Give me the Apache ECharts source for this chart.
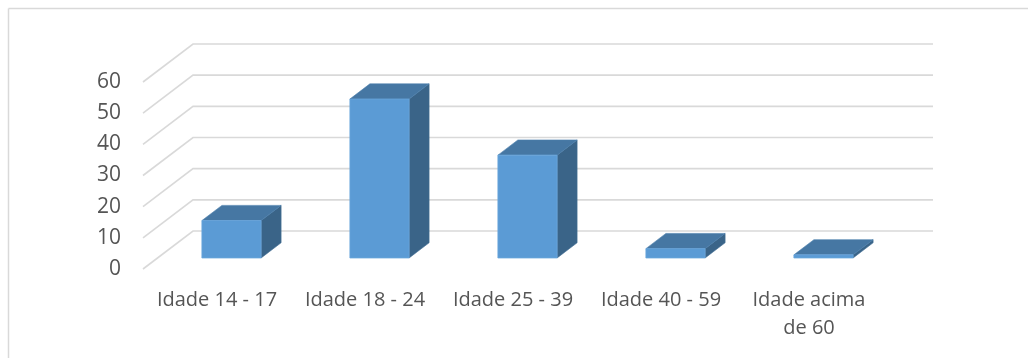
<!DOCTYPE html>
<html>
<head>
<meta charset="utf-8">
<script src="https://cdn.jsdelivr.net/npm/echarts@6/dist/echarts.min.js"></script>
<style>
  html, body { margin: 0; padding: 0; background: #fff; }
  #chart { width: 1028px; height: 358px; }
</style>
</head>
<body>
<div id="chart"></div>
<script>
// Age groups and their shares (%)
const categories = ['Idade 14 - 17', 'Idade 18 - 24', 'Idade 25 - 39', 'Idade 40 - 59', 'Idade acima\nde 60'];
const values = [12, 51, 33, 3, 1];
const yTicks = [0, 10, 20, 30, 40, 50, 60];

// Oblique projection of the floor depth (pixels from front edge to back wall)
const DEPTH_X = 50;
const DEPTH_Y = -38;
// Bars sit inside the depth between these fractions
const BAR_FRONT = 0.29;
const BAR_DEPTH = 0.40;
const BAR_WIDTH = 0.40;

const FONT = '"Open Sans", "Noto Sans", sans-serif';
const TEXT_COLOR = '#555555';
const GRID_COLOR = '#d9d9d9';

const chart = echarts.init(document.getElementById('chart'), null, { renderer: 'canvas' });

function renderGridLine(params, api) {
  const v = api.value(1);
  const band = api.size([1, 0])[0];
  const first = api.coord([0, v]);
  const last = api.coord([categories.length - 1, v]);
  const x0 = first[0] - band / 2;
  const x1 = last[0] + band / 2;
  const y = first[1];
  return {
    type: 'polyline',
    shape: {
      points: [
        [x0, y],
        [x0 + DEPTH_X, y + DEPTH_Y],
        [x1 + DEPTH_X, y + DEPTH_Y]
      ]
    },
    style: { stroke: GRID_COLOR, lineWidth: 1.6, fill: null }
  };
}

function renderBar(params, api) {
  const i = api.value(0);
  const v = api.value(1);
  const base = api.coord([i, 0]);
  const top = api.coord([i, v]);
  const band = api.size([1, 0])[0];
  const w = band * BAR_WIDTH;
  const fx = base[0] - w / 2 + DEPTH_X * BAR_FRONT;
  const by = base[1] + DEPTH_Y * BAR_FRONT;
  const ty = top[1] + DEPTH_Y * BAR_FRONT;
  const dx = DEPTH_X * BAR_DEPTH;
  const dy = DEPTH_Y * BAR_DEPTH;
  return {
    type: 'group',
    children: [
      {
        type: 'polygon',
        shape: { points: [[fx + w, ty], [fx + w, by], [fx + w + dx, by + dy], [fx + w + dx, ty + dy]] },
        style: { fill: '#3a6488', stroke: '#3f6b92', lineWidth: 0.6 }
      },
      {
        type: 'polygon',
        shape: { points: [[fx, ty], [fx + w, ty], [fx + w + dx, ty + dy], [fx + dx, ty + dy]] },
        style: { fill: '#4677a3', stroke: '#4c7fac', lineWidth: 0.6 }
      },
      {
        type: 'rect',
        shape: { x: fx, y: ty, width: w, height: by - ty },
        style: { fill: '#5b9bd5', stroke: '#6aa6dc', lineWidth: 0.8 }
      }
    ]
  };
}

const option = {
  backgroundColor: '#ffffff',
  animation: false,
  grid: { left: 143, right: 145, top: 82, bottom: 89, containLabel: false },
  xAxis: {
    type: 'category',
    data: categories,
    boundaryGap: true,
    axisLine: { show: false },
    axisTick: { show: false },
    splitLine: { show: false },
    axisLabel: {
      interval: 0,
      margin: 17,
      color: TEXT_COLOR,
      fontFamily: FONT,
      fontSize: 20,
      lineHeight: 28,
      align: 'center'
    }
  },
  yAxis: {
    type: 'value',
    min: 0,
    max: 60,
    interval: 10,
    axisLine: { show: false },
    axisTick: { show: false },
    splitLine: { show: false },
    axisLabel: {
      margin: 22,
      color: TEXT_COLOR,
      fontFamily: FONT,
      fontSize: 21,
      formatter: function (v) { return yTicks.indexOf(v) >= 0 ? String(v) : ''; }
    }
  },
  graphic: [
    { type: 'line', shape: { x1: 8.5, y1: 8.5, x2: 1028, y2: 8.5 }, style: { stroke: GRID_COLOR, lineWidth: 1.5 }, silent: true },
    { type: 'line', shape: { x1: 8.5, y1: 8.5, x2: 8.5, y2: 358 }, style: { stroke: GRID_COLOR, lineWidth: 1.5 }, silent: true }
  ],
  series: [
    {
      type: 'custom',
      name: 'grid',
      z: 1,
      clip: false,
      silent: true,
      renderItem: renderGridLine,
      encode: { x: 0, y: 1 },
      data: yTicks.map(function (t) { return [0, t]; })
    },
    {
      type: 'custom',
      name: 'bars',
      z: 2,
      clip: false,
      renderItem: renderBar,
      encode: { x: 0, y: 1 },
      data: values.map(function (v, i) { return [i, v]; })
    }
  ]
};

chart.setOption(option);
</script>
</body>
</html>
